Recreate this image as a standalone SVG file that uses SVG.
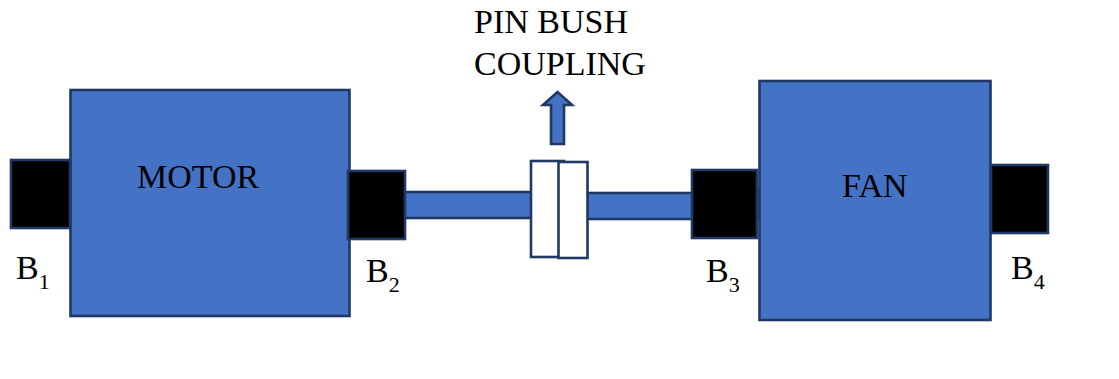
<svg xmlns="http://www.w3.org/2000/svg" width="1119" height="379" viewBox="0 0 1119 379">
<style>
.b{fill:#4472c4;stroke:#203864;stroke-width:2.6}
.k{fill:#000;stroke:#203864;stroke-width:2.6}
.w{fill:#fff;stroke:#203864;stroke-width:2.6}
text{font-family:"Liberation Serif","Times New Roman",serif;font-size:34px;fill:#000}
.s{font-size:22px}
</style>
<rect width="1119" height="379" fill="#fff"/>
<g id="connectors">
<rect class="b" x="404" y="192" width="128" height="26"/>
<rect class="b" x="587" y="193" width="106" height="26"/>
<rect class="b" x="755" y="190" width="6" height="28"/>
</g>
<g id="motor"><rect class="b" x="70.500" y="90" width="279" height="226"/><text x="137" y="188">MOTOR</text></g>
<g id="fan"><rect class="b" x="759.500" y="81" width="231" height="239"/><text x="842" y="197">FAN</text></g>
<g id="b1"><rect class="k" x="11" y="160" width="59" height="68"/><text x="16" y="279">B<tspan class="s" dy="10">1</tspan></text></g>
<g id="b2"><rect class="k" x="348" y="171" width="57" height="68"/><text x="366" y="282">B<tspan class="s" dy="10">2</tspan></text></g>
<g id="b3"><rect class="k" x="692" y="170" width="65" height="68"/><text x="706" y="282">B<tspan class="s" dy="10">3</tspan></text></g>
<g id="b4"><rect class="k" x="991" y="165" width="57" height="68"/><text x="1011" y="279">B<tspan class="s" dy="10">4</tspan></text></g>
<g id="coupling">
<rect class="w" x="531" y="161" width="33" height="96"/>
<rect class="w" x="558.500" y="162" width="29" height="96"/>
</g>
<g id="arrow"><path class="b" d="M551 144V105H543L557.500 92L572 105H564V144Z"/></g>
<g id="label"><text x="474" y="33">PIN BUSH</text><text x="474" y="75">COUPLING</text></g>
</svg>
